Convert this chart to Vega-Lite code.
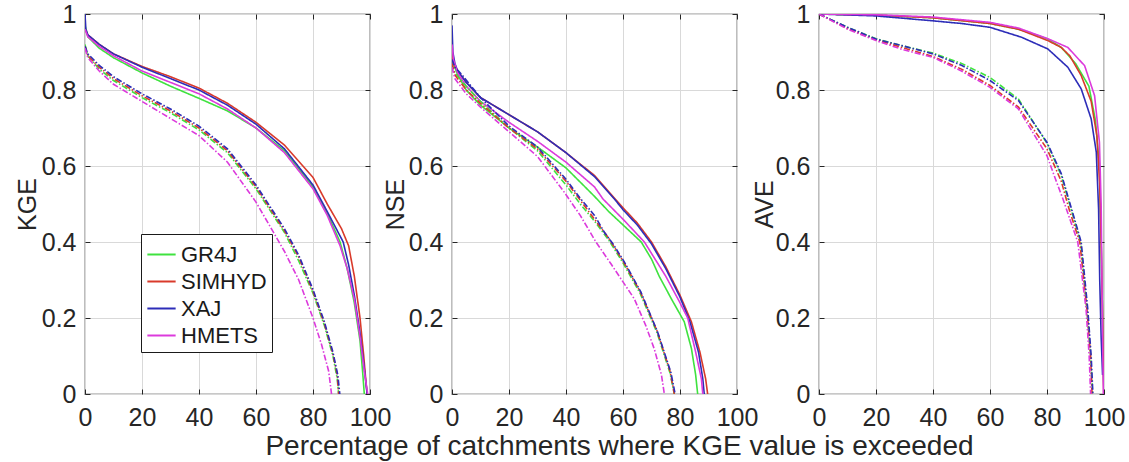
{
  "$schema": "https://vega.github.io/schema/vega-lite/v6.json",
  "padding": {"left": 14, "top": 1, "right": 5, "bottom": 5},
  "spacing": 82,
  "bounds": "flush",
  "background": "white",
  "resolve": {"scale": {"color": "independent", "strokeDash": "independent"}, "legend": {"color": "independent"}},
  "config": {
    "font": "Liberation Sans",
    "view": {"stroke": "#262626", "strokeWidth": 1.2},
    "axis": {
      "domain": false, "ticks": true, "tickSize": -5, "tickColor": "#262626", "tickWidth": 1, "grid": true, "gridColor": "#d9d9d9", "gridWidth": 1,
      "labelFont": "Liberation Sans", "labelFontSize": 25, "labelColor": "#262626",
      "labelFlush": false, "labelOverlap": false, "labelBound": false,
      "titleFont": "Liberation Sans", "titleFontWeight": "normal", "titleColor": "#262626"
    },
    "axisX": {"labelPadding": 16},
    "axisY": {"labelPadding": 14}
  },
  "datasets": {
    "kge": [
      {"model":"GR4J","set":"cal","x":0,"y":0.97},{"model":"GR4J","set":"cal","x":1,"y":0.94},{"model":"GR4J","set":"cal","x":5,"y":0.91},{"model":"GR4J","set":"cal","x":10,"y":0.885},{"model":"GR4J","set":"cal","x":20,"y":0.845},{"model":"GR4J","set":"cal","x":30,"y":0.81},{"model":"GR4J","set":"cal","x":40,"y":0.778},{"model":"GR4J","set":"cal","x":50,"y":0.745},{"model":"GR4J","set":"cal","x":60,"y":0.70},{"model":"GR4J","set":"cal","x":70,"y":0.64},{"model":"GR4J","set":"cal","x":80,"y":0.545},{"model":"GR4J","set":"cal","x":85,"y":0.475},{"model":"GR4J","set":"cal","x":89.5,"y":0.4},{"model":"GR4J","set":"cal","x":92,"y":0.33},{"model":"GR4J","set":"cal","x":94.5,"y":0.24},{"model":"GR4J","set":"cal","x":96.5,"y":0.14},{"model":"GR4J","set":"cal","x":97.5,"y":0.05},{"model":"GR4J","set":"cal","x":98,"y":0},
      {"model":"SIMHYD","set":"cal","x":0,"y":0.96},{"model":"SIMHYD","set":"cal","x":1,"y":0.945},{"model":"SIMHYD","set":"cal","x":5,"y":0.92},{"model":"SIMHYD","set":"cal","x":10,"y":0.895},{"model":"SIMHYD","set":"cal","x":20,"y":0.862},{"model":"SIMHYD","set":"cal","x":30,"y":0.835},{"model":"SIMHYD","set":"cal","x":40,"y":0.805},{"model":"SIMHYD","set":"cal","x":50,"y":0.765},{"model":"SIMHYD","set":"cal","x":60,"y":0.715},{"model":"SIMHYD","set":"cal","x":70,"y":0.655},{"model":"SIMHYD","set":"cal","x":80,"y":0.57},{"model":"SIMHYD","set":"cal","x":85,"y":0.5},{"model":"SIMHYD","set":"cal","x":90,"y":0.435},{"model":"SIMHYD","set":"cal","x":92.5,"y":0.39},{"model":"SIMHYD","set":"cal","x":94.5,"y":0.31},{"model":"SIMHYD","set":"cal","x":96.5,"y":0.2},{"model":"SIMHYD","set":"cal","x":97.8,"y":0.1},{"model":"SIMHYD","set":"cal","x":98.6,"y":0.03},{"model":"SIMHYD","set":"cal","x":99,"y":0},
      {"model":"XAJ","set":"cal","x":0,"y":1.0},{"model":"XAJ","set":"cal","x":0.3,"y":0.96},{"model":"XAJ","set":"cal","x":1,"y":0.945},{"model":"XAJ","set":"cal","x":5,"y":0.92},{"model":"XAJ","set":"cal","x":10,"y":0.895},{"model":"XAJ","set":"cal","x":20,"y":0.86},{"model":"XAJ","set":"cal","x":30,"y":0.83},{"model":"XAJ","set":"cal","x":40,"y":0.80},{"model":"XAJ","set":"cal","x":50,"y":0.76},{"model":"XAJ","set":"cal","x":60,"y":0.71},{"model":"XAJ","set":"cal","x":70,"y":0.645},{"model":"XAJ","set":"cal","x":80,"y":0.55},{"model":"XAJ","set":"cal","x":85,"y":0.48},{"model":"XAJ","set":"cal","x":90.6,"y":0.4},{"model":"XAJ","set":"cal","x":92.5,"y":0.34},{"model":"XAJ","set":"cal","x":94.5,"y":0.26},{"model":"XAJ","set":"cal","x":96.5,"y":0.16},{"model":"XAJ","set":"cal","x":97.8,"y":0.08},{"model":"XAJ","set":"cal","x":98.7,"y":0.02},{"model":"XAJ","set":"cal","x":99,"y":0},
      {"model":"HMETS","set":"cal","x":0,"y":0.96},{"model":"HMETS","set":"cal","x":1,"y":0.94},{"model":"HMETS","set":"cal","x":5,"y":0.915},{"model":"HMETS","set":"cal","x":10,"y":0.89},{"model":"HMETS","set":"cal","x":20,"y":0.85},{"model":"HMETS","set":"cal","x":30,"y":0.82},{"model":"HMETS","set":"cal","x":40,"y":0.79},{"model":"HMETS","set":"cal","x":50,"y":0.75},{"model":"HMETS","set":"cal","x":60,"y":0.70},{"model":"HMETS","set":"cal","x":70,"y":0.635},{"model":"HMETS","set":"cal","x":80,"y":0.54},{"model":"HMETS","set":"cal","x":85,"y":0.47},{"model":"HMETS","set":"cal","x":89.5,"y":0.39},{"model":"HMETS","set":"cal","x":92,"y":0.33},{"model":"HMETS","set":"cal","x":94.5,"y":0.25},{"model":"HMETS","set":"cal","x":96.5,"y":0.15},{"model":"HMETS","set":"cal","x":98,"y":0.06},{"model":"HMETS","set":"cal","x":99.2,"y":0},
      {"model":"GR4J","set":"val","x":0,"y":0.92},{"model":"GR4J","set":"val","x":1,"y":0.89},{"model":"GR4J","set":"val","x":5,"y":0.855},{"model":"GR4J","set":"val","x":10,"y":0.825},{"model":"GR4J","set":"val","x":20,"y":0.78},{"model":"GR4J","set":"val","x":30,"y":0.74},{"model":"GR4J","set":"val","x":40,"y":0.695},{"model":"GR4J","set":"val","x":50,"y":0.635},{"model":"GR4J","set":"val","x":60,"y":0.54},{"model":"GR4J","set":"val","x":70,"y":0.425},{"model":"GR4J","set":"val","x":75,"y":0.35},{"model":"GR4J","set":"val","x":80,"y":0.265},{"model":"GR4J","set":"val","x":84,"y":0.18},{"model":"GR4J","set":"val","x":87,"y":0.1},{"model":"GR4J","set":"val","x":88.5,"y":0.04},{"model":"GR4J","set":"val","x":89,"y":0},
      {"model":"SIMHYD","set":"val","x":0,"y":0.915},{"model":"SIMHYD","set":"val","x":1,"y":0.89},{"model":"SIMHYD","set":"val","x":5,"y":0.86},{"model":"SIMHYD","set":"val","x":10,"y":0.83},{"model":"SIMHYD","set":"val","x":20,"y":0.785},{"model":"SIMHYD","set":"val","x":30,"y":0.745},{"model":"SIMHYD","set":"val","x":40,"y":0.70},{"model":"SIMHYD","set":"val","x":50,"y":0.64},{"model":"SIMHYD","set":"val","x":60,"y":0.545},{"model":"SIMHYD","set":"val","x":70,"y":0.43},{"model":"SIMHYD","set":"val","x":75,"y":0.36},{"model":"SIMHYD","set":"val","x":80,"y":0.27},{"model":"SIMHYD","set":"val","x":84,"y":0.185},{"model":"SIMHYD","set":"val","x":87,"y":0.105},{"model":"SIMHYD","set":"val","x":88.5,"y":0.05},{"model":"SIMHYD","set":"val","x":89,"y":0},
      {"model":"XAJ","set":"val","x":0,"y":0.915},{"model":"XAJ","set":"val","x":1,"y":0.895},{"model":"XAJ","set":"val","x":5,"y":0.865},{"model":"XAJ","set":"val","x":10,"y":0.835},{"model":"XAJ","set":"val","x":20,"y":0.79},{"model":"XAJ","set":"val","x":30,"y":0.75},{"model":"XAJ","set":"val","x":40,"y":0.705},{"model":"XAJ","set":"val","x":50,"y":0.645},{"model":"XAJ","set":"val","x":60,"y":0.55},{"model":"XAJ","set":"val","x":70,"y":0.435},{"model":"XAJ","set":"val","x":75,"y":0.365},{"model":"XAJ","set":"val","x":80,"y":0.275},{"model":"XAJ","set":"val","x":84,"y":0.19},{"model":"XAJ","set":"val","x":87,"y":0.11},{"model":"XAJ","set":"val","x":88.7,"y":0.05},{"model":"XAJ","set":"val","x":89.4,"y":0},
      {"model":"HMETS","set":"val","x":0,"y":0.91},{"model":"HMETS","set":"val","x":1,"y":0.885},{"model":"HMETS","set":"val","x":5,"y":0.85},{"model":"HMETS","set":"val","x":10,"y":0.815},{"model":"HMETS","set":"val","x":20,"y":0.77},{"model":"HMETS","set":"val","x":30,"y":0.725},{"model":"HMETS","set":"val","x":40,"y":0.68},{"model":"HMETS","set":"val","x":50,"y":0.61},{"model":"HMETS","set":"val","x":60,"y":0.505},{"model":"HMETS","set":"val","x":70,"y":0.375},{"model":"HMETS","set":"val","x":75,"y":0.3},{"model":"HMETS","set":"val","x":80,"y":0.2},{"model":"HMETS","set":"val","x":83,"y":0.13},{"model":"HMETS","set":"val","x":85.5,"y":0.06},{"model":"HMETS","set":"val","x":86.5,"y":0}
    ],
    "nse": [
      {"model":"GR4J","set":"cal","x":0,"y":0.9},{"model":"GR4J","set":"cal","x":0.5,"y":0.87},{"model":"GR4J","set":"cal","x":2,"y":0.84},{"model":"GR4J","set":"cal","x":5,"y":0.80},{"model":"GR4J","set":"cal","x":10,"y":0.76},{"model":"GR4J","set":"cal","x":20,"y":0.70},{"model":"GR4J","set":"cal","x":30,"y":0.65},{"model":"GR4J","set":"cal","x":40,"y":0.595},{"model":"GR4J","set":"cal","x":50,"y":0.52},{"model":"GR4J","set":"cal","x":55,"y":0.48},{"model":"GR4J","set":"cal","x":60,"y":0.445},{"model":"GR4J","set":"cal","x":66.4,"y":0.40},{"model":"GR4J","set":"cal","x":70,"y":0.355},{"model":"GR4J","set":"cal","x":72.7,"y":0.31},{"model":"GR4J","set":"cal","x":77,"y":0.25},{"model":"GR4J","set":"cal","x":81.5,"y":0.19},{"model":"GR4J","set":"cal","x":84,"y":0.12},{"model":"GR4J","set":"cal","x":85.5,"y":0.05},{"model":"GR4J","set":"cal","x":86.2,"y":0},
      {"model":"SIMHYD","set":"cal","x":0,"y":0.9},{"model":"SIMHYD","set":"cal","x":0.5,"y":0.87},{"model":"SIMHYD","set":"cal","x":2,"y":0.85},{"model":"SIMHYD","set":"cal","x":5,"y":0.82},{"model":"SIMHYD","set":"cal","x":10,"y":0.78},{"model":"SIMHYD","set":"cal","x":20,"y":0.735},{"model":"SIMHYD","set":"cal","x":30,"y":0.69},{"model":"SIMHYD","set":"cal","x":40,"y":0.635},{"model":"SIMHYD","set":"cal","x":50,"y":0.575},{"model":"SIMHYD","set":"cal","x":57,"y":0.515},{"model":"SIMHYD","set":"cal","x":60,"y":0.49},{"model":"SIMHYD","set":"cal","x":65,"y":0.45},{"model":"SIMHYD","set":"cal","x":70,"y":0.40},{"model":"SIMHYD","set":"cal","x":75,"y":0.335},{"model":"SIMHYD","set":"cal","x":80,"y":0.26},{"model":"SIMHYD","set":"cal","x":84,"y":0.19},{"model":"SIMHYD","set":"cal","x":87,"y":0.11},{"model":"SIMHYD","set":"cal","x":89,"y":0.04},{"model":"SIMHYD","set":"cal","x":89.7,"y":0},
      {"model":"XAJ","set":"cal","x":0,"y":0.97},{"model":"XAJ","set":"cal","x":0.3,"y":0.9},{"model":"XAJ","set":"cal","x":1,"y":0.87},{"model":"XAJ","set":"cal","x":2,"y":0.85},{"model":"XAJ","set":"cal","x":5,"y":0.82},{"model":"XAJ","set":"cal","x":10,"y":0.78},{"model":"XAJ","set":"cal","x":20,"y":0.735},{"model":"XAJ","set":"cal","x":30,"y":0.69},{"model":"XAJ","set":"cal","x":40,"y":0.635},{"model":"XAJ","set":"cal","x":50,"y":0.572},{"model":"XAJ","set":"cal","x":57,"y":0.513},{"model":"XAJ","set":"cal","x":60,"y":0.485},{"model":"XAJ","set":"cal","x":65,"y":0.445},{"model":"XAJ","set":"cal","x":70,"y":0.395},{"model":"XAJ","set":"cal","x":75,"y":0.33},{"model":"XAJ","set":"cal","x":80,"y":0.255},{"model":"XAJ","set":"cal","x":83.5,"y":0.19},{"model":"XAJ","set":"cal","x":86.5,"y":0.11},{"model":"XAJ","set":"cal","x":88,"y":0.04},{"model":"XAJ","set":"cal","x":88.5,"y":0},
      {"model":"HMETS","set":"cal","x":0,"y":0.92},{"model":"HMETS","set":"cal","x":0.5,"y":0.88},{"model":"HMETS","set":"cal","x":2,"y":0.845},{"model":"HMETS","set":"cal","x":5,"y":0.81},{"model":"HMETS","set":"cal","x":10,"y":0.77},{"model":"HMETS","set":"cal","x":20,"y":0.715},{"model":"HMETS","set":"cal","x":30,"y":0.665},{"model":"HMETS","set":"cal","x":40,"y":0.61},{"model":"HMETS","set":"cal","x":50,"y":0.545},{"model":"HMETS","set":"cal","x":53,"y":0.513},{"model":"HMETS","set":"cal","x":60,"y":0.46},{"model":"HMETS","set":"cal","x":67.5,"y":0.40},{"model":"HMETS","set":"cal","x":70,"y":0.37},{"model":"HMETS","set":"cal","x":75,"y":0.31},{"model":"HMETS","set":"cal","x":80,"y":0.24},{"model":"HMETS","set":"cal","x":82.7,"y":0.2},{"model":"HMETS","set":"cal","x":85.5,"y":0.11},{"model":"HMETS","set":"cal","x":87.5,"y":0.04},{"model":"HMETS","set":"cal","x":88,"y":0},
      {"model":"GR4J","set":"val","x":0,"y":0.87},{"model":"GR4J","set":"val","x":1,"y":0.845},{"model":"GR4J","set":"val","x":5,"y":0.81},{"model":"GR4J","set":"val","x":10,"y":0.77},{"model":"GR4J","set":"val","x":20,"y":0.70},{"model":"GR4J","set":"val","x":30,"y":0.64},{"model":"GR4J","set":"val","x":40,"y":0.55},{"model":"GR4J","set":"val","x":45,"y":0.5},{"model":"GR4J","set":"val","x":50,"y":0.455},{"model":"GR4J","set":"val","x":55,"y":0.405},{"model":"GR4J","set":"val","x":60,"y":0.345},{"model":"GR4J","set":"val","x":66,"y":0.265},{"model":"GR4J","set":"val","x":72,"y":0.16},{"model":"GR4J","set":"val","x":76.5,"y":0.055},{"model":"GR4J","set":"val","x":78,"y":0},
      {"model":"SIMHYD","set":"val","x":0,"y":0.87},{"model":"SIMHYD","set":"val","x":1,"y":0.84},{"model":"SIMHYD","set":"val","x":5,"y":0.80},{"model":"SIMHYD","set":"val","x":10,"y":0.765},{"model":"SIMHYD","set":"val","x":20,"y":0.70},{"model":"SIMHYD","set":"val","x":30,"y":0.645},{"model":"SIMHYD","set":"val","x":40,"y":0.56},{"model":"SIMHYD","set":"val","x":45,"y":0.51},{"model":"SIMHYD","set":"val","x":50,"y":0.46},{"model":"SIMHYD","set":"val","x":55,"y":0.41},{"model":"SIMHYD","set":"val","x":60,"y":0.35},{"model":"SIMHYD","set":"val","x":66,"y":0.27},{"model":"SIMHYD","set":"val","x":72,"y":0.165},{"model":"SIMHYD","set":"val","x":76.5,"y":0.06},{"model":"SIMHYD","set":"val","x":78,"y":0},
      {"model":"XAJ","set":"val","x":0,"y":0.88},{"model":"XAJ","set":"val","x":1,"y":0.86},{"model":"XAJ","set":"val","x":3.5,"y":0.84},{"model":"XAJ","set":"val","x":10,"y":0.78},{"model":"XAJ","set":"val","x":20,"y":0.705},{"model":"XAJ","set":"val","x":30,"y":0.65},{"model":"XAJ","set":"val","x":40,"y":0.565},{"model":"XAJ","set":"val","x":45,"y":0.515},{"model":"XAJ","set":"val","x":50,"y":0.47},{"model":"XAJ","set":"val","x":53.5,"y":0.425},{"model":"XAJ","set":"val","x":56.5,"y":0.395},{"model":"XAJ","set":"val","x":60.5,"y":0.347},{"model":"XAJ","set":"val","x":66.3,"y":0.268},{"model":"XAJ","set":"val","x":72.2,"y":0.162},{"model":"XAJ","set":"val","x":76.8,"y":0.057},{"model":"XAJ","set":"val","x":78.3,"y":0},
      {"model":"HMETS","set":"val","x":0,"y":0.86},{"model":"HMETS","set":"val","x":1,"y":0.83},{"model":"HMETS","set":"val","x":5,"y":0.79},{"model":"HMETS","set":"val","x":10,"y":0.755},{"model":"HMETS","set":"val","x":20,"y":0.69},{"model":"HMETS","set":"val","x":30,"y":0.625},{"model":"HMETS","set":"val","x":39.5,"y":0.53},{"model":"HMETS","set":"val","x":45,"y":0.47},{"model":"HMETS","set":"val","x":50.5,"y":0.40},{"model":"HMETS","set":"val","x":56,"y":0.34},{"model":"HMETS","set":"val","x":60,"y":0.295},{"model":"HMETS","set":"val","x":64,"y":0.25},{"model":"HMETS","set":"val","x":68,"y":0.18},{"model":"HMETS","set":"val","x":71,"y":0.118},{"model":"HMETS","set":"val","x":73.5,"y":0.05},{"model":"HMETS","set":"val","x":74.5,"y":0}
    ],
    "ave": [
      {"model":"GR4J","set":"cal","x":0,"y":1.0},{"model":"GR4J","set":"cal","x":20,"y":0.997},{"model":"GR4J","set":"cal","x":40,"y":0.99},{"model":"GR4J","set":"cal","x":60,"y":0.975},{"model":"GR4J","set":"cal","x":70,"y":0.96},{"model":"GR4J","set":"cal","x":80,"y":0.935},{"model":"GR4J","set":"cal","x":85,"y":0.912},{"model":"GR4J","set":"cal","x":90,"y":0.87},{"model":"GR4J","set":"cal","x":94.7,"y":0.81},{"model":"GR4J","set":"cal","x":97,"y":0.72},{"model":"GR4J","set":"cal","x":98.4,"y":0.6},{"model":"GR4J","set":"cal","x":99,"y":0.4},{"model":"GR4J","set":"cal","x":99.5,"y":0.2},{"model":"GR4J","set":"cal","x":99.8,"y":0.05},{"model":"GR4J","set":"cal","x":100,"y":0},
      {"model":"SIMHYD","set":"cal","x":0,"y":1.0},{"model":"SIMHYD","set":"cal","x":20,"y":0.997},{"model":"SIMHYD","set":"cal","x":40,"y":0.99},{"model":"SIMHYD","set":"cal","x":60,"y":0.975},{"model":"SIMHYD","set":"cal","x":70,"y":0.96},{"model":"SIMHYD","set":"cal","x":80.3,"y":0.93},{"model":"SIMHYD","set":"cal","x":85,"y":0.912},{"model":"SIMHYD","set":"cal","x":88,"y":0.89},{"model":"SIMHYD","set":"cal","x":92,"y":0.838},{"model":"SIMHYD","set":"cal","x":95.5,"y":0.77},{"model":"SIMHYD","set":"cal","x":97.5,"y":0.68},{"model":"SIMHYD","set":"cal","x":98.5,"y":0.55},{"model":"SIMHYD","set":"cal","x":99,"y":0.4},{"model":"SIMHYD","set":"cal","x":99.5,"y":0.2},{"model":"SIMHYD","set":"cal","x":99.8,"y":0.05},{"model":"SIMHYD","set":"cal","x":99.9,"y":0},
      {"model":"XAJ","set":"cal","x":0,"y":1.0},{"model":"XAJ","set":"cal","x":20,"y":0.995},{"model":"XAJ","set":"cal","x":40,"y":0.982},{"model":"XAJ","set":"cal","x":50,"y":0.975},{"model":"XAJ","set":"cal","x":60,"y":0.965},{"model":"XAJ","set":"cal","x":71,"y":0.939},{"model":"XAJ","set":"cal","x":80.3,"y":0.908},{"model":"XAJ","set":"cal","x":87.3,"y":0.86},{"model":"XAJ","set":"cal","x":92,"y":0.803},{"model":"XAJ","set":"cal","x":95.5,"y":0.724},{"model":"XAJ","set":"cal","x":97.3,"y":0.636},{"model":"XAJ","set":"cal","x":98.1,"y":0.487},{"model":"XAJ","set":"cal","x":98.5,"y":0.3},{"model":"XAJ","set":"cal","x":99,"y":0.15},{"model":"XAJ","set":"cal","x":99.5,"y":0.05},
      {"model":"HMETS","set":"cal","x":0,"y":1.0},{"model":"HMETS","set":"cal","x":20,"y":0.998},{"model":"HMETS","set":"cal","x":40,"y":0.992},{"model":"HMETS","set":"cal","x":60,"y":0.978},{"model":"HMETS","set":"cal","x":70,"y":0.963},{"model":"HMETS","set":"cal","x":80.3,"y":0.935},{"model":"HMETS","set":"cal","x":87.3,"y":0.912},{"model":"HMETS","set":"cal","x":93.2,"y":0.864},{"model":"HMETS","set":"cal","x":96.7,"y":0.785},{"model":"HMETS","set":"cal","x":98.4,"y":0.662},{"model":"HMETS","set":"cal","x":99,"y":0.5},{"model":"HMETS","set":"cal","x":99.3,"y":0.3},{"model":"HMETS","set":"cal","x":99.6,"y":0.1},{"model":"HMETS","set":"cal","x":99.8,"y":0},
      {"model":"GR4J","set":"val","x":0,"y":1.0},{"model":"GR4J","set":"val","x":10,"y":0.965},{"model":"GR4J","set":"val","x":20,"y":0.935},{"model":"GR4J","set":"val","x":30,"y":0.915},{"model":"GR4J","set":"val","x":40,"y":0.897},{"model":"GR4J","set":"val","x":50,"y":0.87},{"model":"GR4J","set":"val","x":60,"y":0.833},{"model":"GR4J","set":"val","x":70,"y":0.776},{"model":"GR4J","set":"val","x":80,"y":0.66},{"model":"GR4J","set":"val","x":85,"y":0.575},{"model":"GR4J","set":"val","x":88.3,"y":0.49},{"model":"GR4J","set":"val","x":91.8,"y":0.4},{"model":"GR4J","set":"val","x":94,"y":0.224},{"model":"GR4J","set":"val","x":95.3,"y":0.1},{"model":"GR4J","set":"val","x":96,"y":0},
      {"model":"SIMHYD","set":"val","x":0,"y":1.0},{"model":"SIMHYD","set":"val","x":10,"y":0.962},{"model":"SIMHYD","set":"val","x":20,"y":0.932},{"model":"SIMHYD","set":"val","x":30,"y":0.91},{"model":"SIMHYD","set":"val","x":40,"y":0.888},{"model":"SIMHYD","set":"val","x":50,"y":0.855},{"model":"SIMHYD","set":"val","x":60,"y":0.812},{"model":"SIMHYD","set":"val","x":70,"y":0.755},{"model":"SIMHYD","set":"val","x":80,"y":0.645},{"model":"SIMHYD","set":"val","x":85,"y":0.56},{"model":"SIMHYD","set":"val","x":88,"y":0.48},{"model":"SIMHYD","set":"val","x":91.5,"y":0.4},{"model":"SIMHYD","set":"val","x":94,"y":0.224},{"model":"SIMHYD","set":"val","x":95.3,"y":0.1},{"model":"SIMHYD","set":"val","x":95.8,"y":0},
      {"model":"XAJ","set":"val","x":0,"y":1.0},{"model":"XAJ","set":"val","x":10,"y":0.965},{"model":"XAJ","set":"val","x":20,"y":0.934},{"model":"XAJ","set":"val","x":30,"y":0.915},{"model":"XAJ","set":"val","x":40,"y":0.895},{"model":"XAJ","set":"val","x":50,"y":0.865},{"model":"XAJ","set":"val","x":60,"y":0.825},{"model":"XAJ","set":"val","x":70,"y":0.772},{"model":"XAJ","set":"val","x":80,"y":0.662},{"model":"XAJ","set":"val","x":85,"y":0.58},{"model":"XAJ","set":"val","x":88.5,"y":0.49},{"model":"XAJ","set":"val","x":92,"y":0.4},{"model":"XAJ","set":"val","x":94.3,"y":0.224},{"model":"XAJ","set":"val","x":95.5,"y":0.1},{"model":"XAJ","set":"val","x":96.1,"y":0},
      {"model":"HMETS","set":"val","x":0,"y":1.0},{"model":"HMETS","set":"val","x":10,"y":0.96},{"model":"HMETS","set":"val","x":20,"y":0.93},{"model":"HMETS","set":"val","x":30,"y":0.905},{"model":"HMETS","set":"val","x":40,"y":0.886},{"model":"HMETS","set":"val","x":50,"y":0.85},{"model":"HMETS","set":"val","x":60,"y":0.807},{"model":"HMETS","set":"val","x":70,"y":0.75},{"model":"HMETS","set":"val","x":80,"y":0.627},{"model":"HMETS","set":"val","x":83,"y":0.565},{"model":"HMETS","set":"val","x":85.6,"y":0.513},{"model":"HMETS","set":"val","x":90.8,"y":0.4},{"model":"HMETS","set":"val","x":93.7,"y":0.224},{"model":"HMETS","set":"val","x":94.8,"y":0.1},{"model":"HMETS","set":"val","x":95.3,"y":0}
    ]
  },
  "hconcat": [
    {
      "width": 285, "height": 380,
      "data": {"name": "kge"},
      "resolve": {"axis": {"x": "independent", "y": "independent"}},
      "layer": [
        {
          "mark": {"type": "line", "strokeWidth": 1.6, "clip": true},
          "encoding": {
            "x": {"field": "x", "type": "quantitative", "scale": {"domain": [0, 100], "nice": false}, "axis": {"orient": "bottom", "values": [0, 20, 40, 60, 80, 100], "title": null}},
            "y": {"field": "y", "type": "quantitative", "scale": {"domain": [0, 1], "nice": false}, "axis": {"orient": "left", "values": [0, 0.2, 0.4, 0.6, 0.8, 1], "format": "~g", "title": "KGE", "titleFontSize": 25, "titleBaseline": "alphabetic", "titleX": -50}},
            "color": {"field": "model", "type": "nominal", "sort": null,
              "scale": {"domain": ["GR4J", "SIMHYD", "XAJ", "HMETS"], "range": ["#3fe23f", "#d93a2b", "#2d2db8", "#dc3adc"]},
              "legend": {"title": null, "orient": "none", "legendX": 56, "legendY": 220, "symbolType": "stroke", "symbolSize": 800, "symbolStrokeWidth": 2, "labelFontSize": 22, "labelFont": "Liberation Sans", "labelColor": "#1a1a1a", "strokeColor": "#1a1a1a", "fillColor": "white", "padding": 5, "rowPadding": 0, "labelOffset": 4, "labelLimit": 0}},
            "strokeDash": {"field": "set", "type": "nominal", "scale": {"domain": ["cal", "val"], "range": [[1, 0], [6, 2, 1.5, 2]]}, "legend": null}
          }
        },
        {
          "mark": {"type": "point", "opacity": 0},
          "encoding": {
            "x": {"field": "x", "type": "quantitative", "axis": {"orient": "top", "values": [0, 20, 40, 60, 80, 100], "labels": false, "grid": false, "title": null}},
            "y": {"field": "y", "type": "quantitative", "axis": {"orient": "right", "values": [0, 0.2, 0.4, 0.6, 0.8, 1], "labels": false, "grid": false, "title": null}}
          }
        }
      ]
    },
    {
      "width": 285, "height": 380,
      "data": {"name": "nse"},
      "resolve": {"axis": {"x": "independent", "y": "independent"}},
      "layer": [
        {
          "mark": {"type": "line", "strokeWidth": 1.6, "clip": true},
          "encoding": {
            "x": {"field": "x", "type": "quantitative", "scale": {"domain": [0, 100], "nice": false}, "axis": {"orient": "bottom", "values": [0, 20, 40, 60, 80, 100], "title": "Percentage of catchments where KGE value is exceeded", "titleFontSize": 28, "titleX": 167, "titleY": 60, "titleBaseline": "alphabetic", "titleAlign": "center", "titleAnchor": null}},
            "y": {"field": "y", "type": "quantitative", "scale": {"domain": [0, 1], "nice": false}, "axis": {"orient": "left", "values": [0, 0.2, 0.4, 0.6, 0.8, 1], "format": "~g", "title": "NSE", "titleFontSize": 25, "titleBaseline": "alphabetic", "titleX": -49}},
            "color": {"field": "model", "type": "nominal", "sort": null,
              "scale": {"domain": ["GR4J", "SIMHYD", "XAJ", "HMETS"], "range": ["#3fe23f", "#d93a2b", "#2d2db8", "#dc3adc"]}, "legend": null},
            "strokeDash": {"field": "set", "type": "nominal", "scale": {"domain": ["cal", "val"], "range": [[1, 0], [6, 2, 1.5, 2]]}, "legend": null}
          }
        },
        {
          "mark": {"type": "point", "opacity": 0},
          "encoding": {
            "x": {"field": "x", "type": "quantitative", "axis": {"orient": "top", "values": [0, 20, 40, 60, 80, 100], "labels": false, "grid": false, "title": null}},
            "y": {"field": "y", "type": "quantitative", "axis": {"orient": "right", "values": [0, 0.2, 0.4, 0.6, 0.8, 1], "labels": false, "grid": false, "title": null}}
          }
        }
      ]
    },
    {
      "width": 285, "height": 380,
      "data": {"name": "ave"},
      "resolve": {"axis": {"x": "independent", "y": "independent"}},
      "layer": [
        {
          "mark": {"type": "line", "strokeWidth": 1.6, "clip": true},
          "encoding": {
            "x": {"field": "x", "type": "quantitative", "scale": {"domain": [0, 100], "nice": false}, "axis": {"orient": "bottom", "values": [0, 20, 40, 60, 80, 100], "title": null}},
            "y": {"field": "y", "type": "quantitative", "scale": {"domain": [0, 1], "nice": false}, "axis": {"orient": "left", "values": [0, 0.2, 0.4, 0.6, 0.8, 1], "format": "~g", "title": "AVE", "titleFontSize": 25, "titleBaseline": "alphabetic", "titleX": -47}},
            "color": {"field": "model", "type": "nominal", "sort": null,
              "scale": {"domain": ["GR4J", "SIMHYD", "XAJ", "HMETS"], "range": ["#3fe23f", "#d93a2b", "#2d2db8", "#dc3adc"]}, "legend": null},
            "strokeDash": {"field": "set", "type": "nominal", "scale": {"domain": ["cal", "val"], "range": [[1, 0], [6, 2, 1.5, 2]]}, "legend": null}
          }
        },
        {
          "mark": {"type": "point", "opacity": 0},
          "encoding": {
            "x": {"field": "x", "type": "quantitative", "axis": {"orient": "top", "values": [0, 20, 40, 60, 80, 100], "labels": false, "grid": false, "title": null}},
            "y": {"field": "y", "type": "quantitative", "axis": {"orient": "right", "values": [0, 0.2, 0.4, 0.6, 0.8, 1], "labels": false, "grid": false, "title": null}}
          }
        }
      ]
    }
  ]
}
